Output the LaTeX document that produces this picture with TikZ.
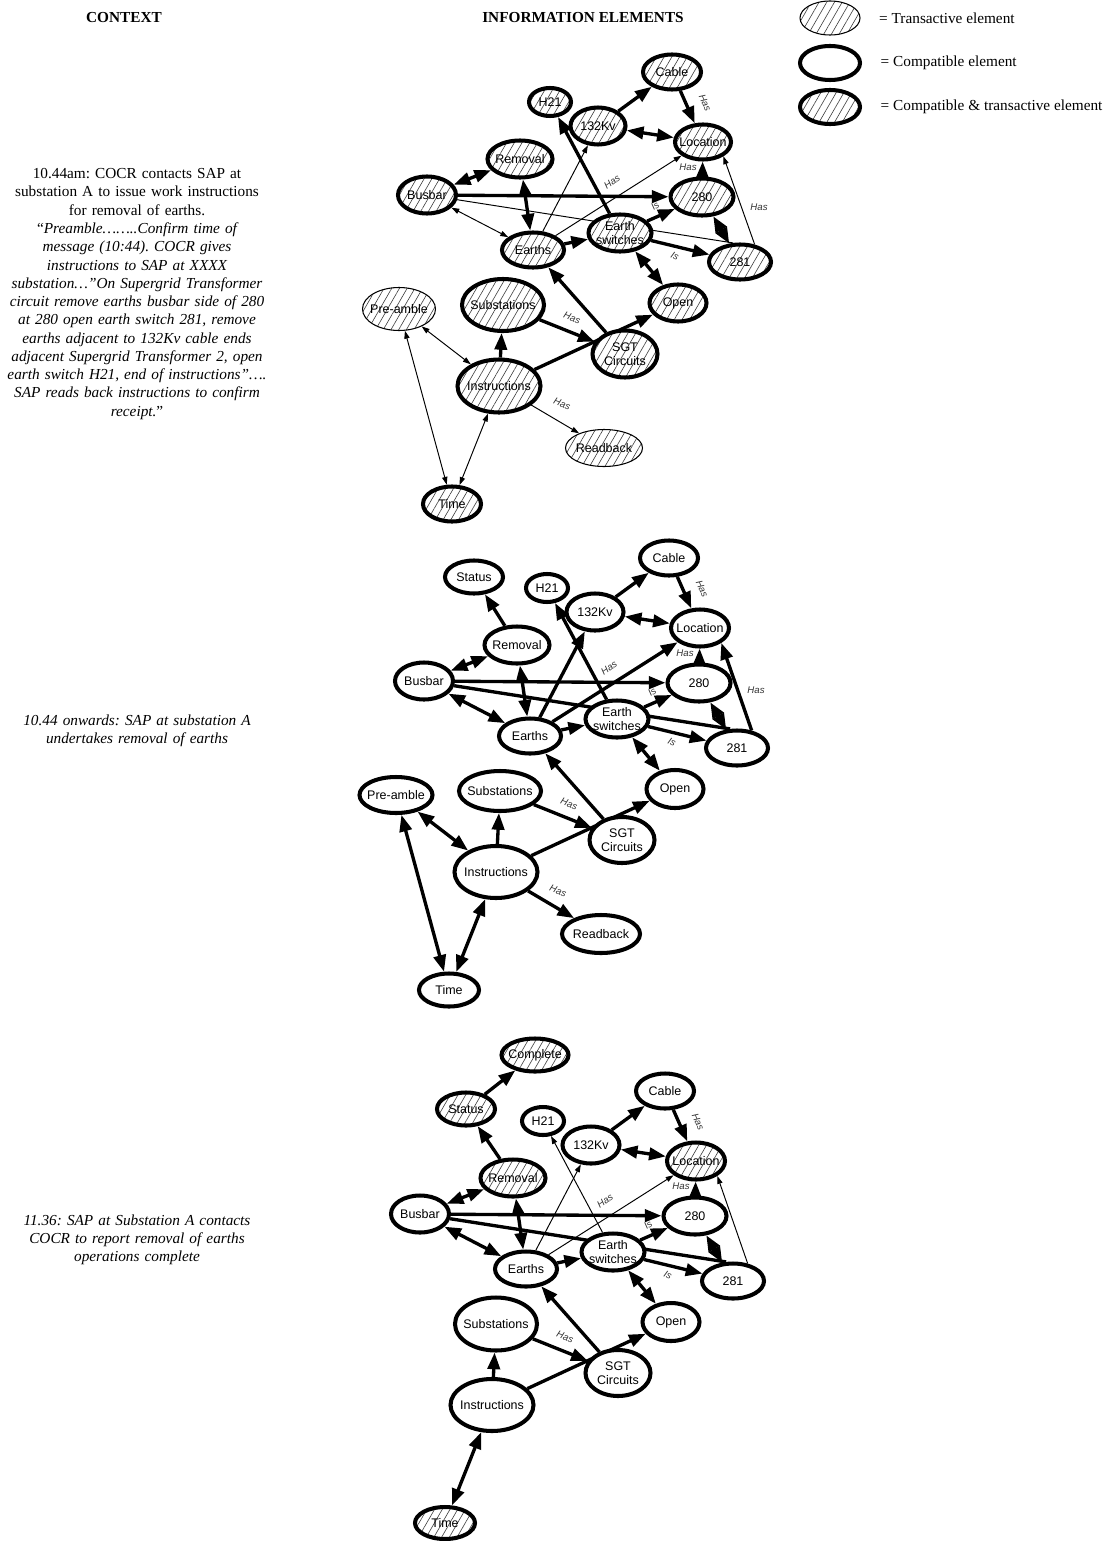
\documentclass[tikz,border=0pt]{standalone}
\usepackage{fontspec}
\setmainfont{Liberation Serif}
\newfontfamily\arialfont{Liberation Sans}
\usetikzlibrary{shapes.geometric,arrows.meta,patterns.meta,backgrounds}
\frenchspacing

\begin{document}
\begin{tikzpicture}[
  x=0.02cm, y=-0.02cm,
  elem/.style={ellipse, draw, align=center, inner xsep=-4pt, inner ysep=-2pt,
               font=\arialfont\fontsize{7.1}{8}\selectfont},
  sz/.style 2 args={minimum width=#1*0.02cm, minimum height=#2*0.02cm},
  hatch/.style={preaction={fill=white}, pattern color=black!75,
                pattern={Lines[angle=60,distance=3.8pt,line width=0.35pt]}},
  trans/.style={elem, hatch, line width=0.6pt},
  compat/.style={elem, fill=white, line width=2.3pt},
  both/.style={elem, hatch, line width=2.3pt},
  rel/.style={-{Triangle[length=9.5pt,width=7pt]}, line width=1.9pt},
  relbi/.style={{Triangle[length=9.5pt,width=7pt]}-{Triangle[length=9.5pt,width=7pt]}, line width=1.9pt},
  diam/.style={{Triangle[length=9pt,width=7pt]}-{Triangle[length=9pt,width=7pt]}, line width=1.9pt},
  weak/.style={-{Triangle[length=4.5pt,width=3pt]}, line width=0.55pt},
  weakbi/.style={{Triangle[length=4.5pt,width=3pt]}-{Triangle[length=4.5pt,width=3pt]}, line width=0.55pt},
  lbl/.style={font=\arialfont\itshape\fontsize{5.5}{6}\selectfont, text=black!80, inner sep=1pt},
  ctx/.style={font=\fontsize{8.7}{10.4}\selectfont, align=center, text width=5.4cm},
  head/.style={font=\fontsize{8.7}{10.4}\selectfont\bfseries},
  key/.style={font=\fontsize{8.7}{10.4}\selectfont, anchor=west},
]
\useasboundingbox (0,0) rectangle (1112,1541);

% ---------------- HEADINGS AND KEY ----------------
\node[head] (hdCtx) at (124,18) {CONTEXT};
\node[head] (hdInfo) at (583,18) {INFORMATION ELEMENTS};

\node[trans, sz={60}{34}] (keyTrans) at (830,18) {};
\node[compat, sz={60}{34}] (keyCompat) at (830,63) {};
\node[both, sz={60}{34}] (keyBoth) at (830,107) {};
\node[key] at ([xshift=0.25cm]keyTrans.east) {= Transactive element};
\node[key] at ([xshift=0.25cm]keyCompat.east) {= Compatible element};
\node[key] at ([xshift=0.25cm]keyBoth.east) {= Compatible \& transactive element};

% ---------------- CONTEXT TEXTS ----------------
\node[ctx] (ctxA) at (137,294) {10.44am: COCR contacts SAP at\\
  substation A to issue work instructions\\ for removal of earths.\\
  “\textit{Preamble……..Confirm time of\\ message (10:44). COCR gives\\
  instructions to SAP at XXXX\\ substation…”On Supergrid Transformer\\
  circuit remove earths busbar side of 280\\ at 280 open earth switch 281, remove\\
  earths adjacent to 132Kv cable ends\\ adjacent Supergrid Transformer 2, open\\
  earth switch H21, end of instructions”….\\ SAP reads back instructions to confirm\\
  receipt.}”};
\node[ctx, font=\fontsize{8.7}{10.4}\selectfont\itshape] (ctxB) at (137,731)
  {10.44 onwards: SAP at substation A\\ undertakes removal of earths};
\node[ctx, font=\fontsize{8.7}{10.4}\selectfont\itshape] (ctxC) at (137,1240)
  {11.36: SAP at Substation A contacts\\ COCR to report removal of earths\\ operations complete};

% ---------------- GRAPH A (10.44am) ----------------
\node[both, sz={58}{35}] (aCable) at (672,72) {Cable};
\node[both, sz={42}{28}] (aH21) at (550,102) {H21};
\node[both, sz={55}{37}] (a132Kv) at (598,126) {132Kv};
\node[both, sz={56}{35}] (aLocation) at (703,142) {Location};
\node[both, sz={65}{37}] (aRemoval) at (520,159) {Removal};
\node[both, sz={58}{37}] (aBusbar) at (427,195) {Busbar};
\node[both, sz={63}{37}] (a280) at (702,197) {280};
\node[both, sz={63}{37}] (aSwitches) at (620,233) {Earth\\switches};
\node[both, sz={62}{35}] (aEarths) at (533,250) {Earths};
\node[both, sz={62}{35}] (a281) at (740,262) {281};
\node[trans, sz={73}{43}] (aPreamble) at (399,309) {Pre-amble};
\node[both, sz={82}{52}] (aSubst) at (503,305) {Substations};
\node[both, sz={57}{37}] (aOpen) at (678,303) {Open};
\node[both, sz={65}{47}] (aSGT) at (625,354) {SGT\\Circuits};
\node[both, sz={83}{53}] (aInstr) at (499,386) {Instructions};
\node[trans, sz={77}{37}] (aReadback) at (604,448) {Readback};
\node[both, sz={58}{35}] (aTime) at (452,504) {Time};

% ---------------- GRAPH B (10.44 onwards) ----------------
\begin{scope}[shift={(-3,486)}]
\node[compat, sz={58}{33}] (bStatus) at (477,91) {Status};
\node[compat, sz={58}{35}] (bCable) at (672,72) {Cable};
\node[compat, sz={42}{28}] (bH21) at (550,102) {H21};
\node[compat, sz={57}{37}] (b132Kv) at (598,126) {132Kv};
\node[compat, sz={58}{37}] (bLocation) at (703,142) {Location};
\node[compat, sz={65}{37}] (bRemoval) at (520,159) {Removal};
\node[compat, sz={58}{37}] (bBusbar) at (427,195) {Busbar};
\node[compat, sz={63}{37}] (b280) at (702,197) {280};
\node[compat, sz={63}{37}] (bSwitches) at (620,233) {Earth\\switches};
\node[compat, sz={62}{35}] (bEarths) at (533,250) {Earths};
\node[compat, sz={62}{35}] (b281) at (740,262) {281};
\node[compat, sz={73}{36}] (bPreamble) at (399,309) {Pre-amble};
\node[compat, sz={82}{40}] (bSubst) at (503,305) {Substations};
\node[compat, sz={57}{38}] (bOpen) at (678,303) {Open};
\node[compat, sz={65}{46}] (bSGT) at (625,354) {SGT\\Circuits};
\node[compat, sz={83}{52}] (bInstr) at (499,386) {Instructions};
\node[compat, sz={78}{38}] (bReadback) at (604,448) {Readback};
\node[compat, sz={60}{33}] (bTime) at (452,504) {Time};
\end{scope}

% ---------------- GRAPH C (11.36) ----------------
\begin{scope}[shift={(-7,1019)}]
\node[both, sz={67}{33}] (cComplete) at (542,36) {Complete};
\node[both, sz={58}{33}] (cStatus) at (473,90) {Status};
\node[compat, sz={58}{35}] (cCable) at (672,72) {Cable};
\node[compat, sz={42}{28}] (cH21) at (550,102) {H21};
\node[compat, sz={57}{37}] (c132Kv) at (598,126) {132Kv};
\node[both, sz={58}{37}] (cLocation) at (703,142) {Location};
\node[both, sz={65}{37}] (cRemoval) at (520,159) {Removal};
\node[compat, sz={58}{37}] (cBusbar) at (427,195) {Busbar};
\node[compat, sz={63}{37}] (c280) at (702,197) {280};
\node[compat, sz={63}{37}] (cSwitches) at (620,233) {Earth\\switches};
\node[compat, sz={62}{35}] (cEarths) at (533,250) {Earths};
\node[compat, sz={62}{35}] (c281) at (740,262) {281};
\node[compat, sz={82}{53}] (cSubst) at (503,305) {Substations};
\node[compat, sz={57}{38}] (cOpen) at (678,303) {Open};
\node[compat, sz={65}{46}] (cSGT) at (625,354) {SGT\\Circuits};
\node[compat, sz={83}{52}] (cInstr) at (499,386) {Instructions};
\node[both, sz={60}{32}] (cTime) at (452,504) {Time};
\end{scope}

% ---------------- EDGES (behind the elements) ----------------
\begin{scope}[on background layer]
  % links drawn heavy in all three graphs, labels at fixed spots
  \foreach \g/\dx/\dy in {a/0/0, b/-3/486, c/-7/1019}{
    \begin{scope}[shift={(\dx,\dy)}]
    \draw[rel] (\g132Kv) -- (\g Cable);
    \draw[rel] (\g Cable) -- (\g Location);
    \draw[relbi] (\g132Kv) -- (\g Location);
    \draw[relbi] (\g Busbar) -- (\g Removal);
    \draw[relbi] (\g Removal) -- (\g Earths);
    \draw[rel] (\g Busbar) -- (\g280);
    \draw[rel] (\g Earths) -- (\g Switches);
    \draw[rel] (\g Switches) -- (\g280);
    \draw[rel] (\g Switches) -- (\g281);
    \draw[diam] (\g280) -- (\g281);
    \draw[rel] (\g280) -- (\g Location);
    \draw[relbi] (\g Switches) -- (\g Open);
    \draw[rel] (\g SGT) -- (\g Earths);
    \draw[rel] (\g Subst) -- (\g SGT);
    \draw[rel] (\g Instr) -- (\g Open);
    \draw[rel] (\g Instr) -- (\g Subst);
    \node[lbl, rotate=-66] at (705,103) {Has};
    \node[lbl, rotate=35] at (612,182) {Has};
    \node[lbl] at (688,167) {Has};
    \node[lbl, rotate=35] at (655,206) {Is};
    \node[lbl, rotate=-25] at (675,256) {Is};
    \node[lbl, rotate=-22] at (572,318) {Has};
    \end{scope}
  }
  % graph A
  \draw[rel] (aSwitches) -- (aH21);
  \draw[weak] (aEarths) -- (a132Kv);
  \draw[weak] (aEarths) -- (aLocation);
  \draw[weakbi] (aBusbar) -- (aEarths);
  \draw[line width=0.55pt] (aBusbar) -- (a281.110);
  \draw[weak] (a281.50) -- (aLocation.-35);
  \draw[weakbi] (aPreamble) -- (aInstr);
  \draw[weakbi] (aPreamble) -- (aTime);
  \draw[weakbi] (aInstr) -- (aTime);
  \draw[weak] (aInstr) -- (aReadback);
  \node[lbl] at (759,207) {Has};
  \node[lbl, rotate=-22] at (562,404) {Has};
  % graph B
  \draw[rel] (bRemoval) -- (bStatus);
  \draw[rel] (bSwitches) -- (bH21);
  \draw[rel] (bEarths) -- (b132Kv);
  \draw[rel] (bEarths) -- (bLocation);
  \draw[relbi] (bBusbar) -- (bEarths);
  \draw[line width=1.9pt] (bBusbar) -- (b281.110);
  \draw[rel] (b281.50) -- (bLocation.-35);
  \draw[relbi] (bPreamble) -- (bInstr);
  \draw[relbi] (bPreamble) -- (bTime);
  \draw[relbi] (bInstr) -- (bTime);
  \draw[rel] (bInstr) -- (bReadback);
  \node[lbl] at (756,690) {Has};
  \node[lbl, rotate=-22] at (558,891) {Has};
  % graph C
  \draw[rel] (cRemoval) -- (cStatus);
  \draw[rel] (cStatus) -- (cComplete);
  \draw[weak] (cSwitches) -- (cH21);
  \draw[weak] (cEarths) -- (c132Kv);
  \draw[weak] (cEarths) -- (cLocation);
  \draw[relbi] (cBusbar) -- (cEarths);
  \draw[line width=1.9pt] (cBusbar) -- (c281.110);
  \draw[weak] (c281.50) -- (cLocation.-35);
  \draw[relbi] (cInstr) -- (cTime);
\end{scope}
\end{tikzpicture}
\end{document}
